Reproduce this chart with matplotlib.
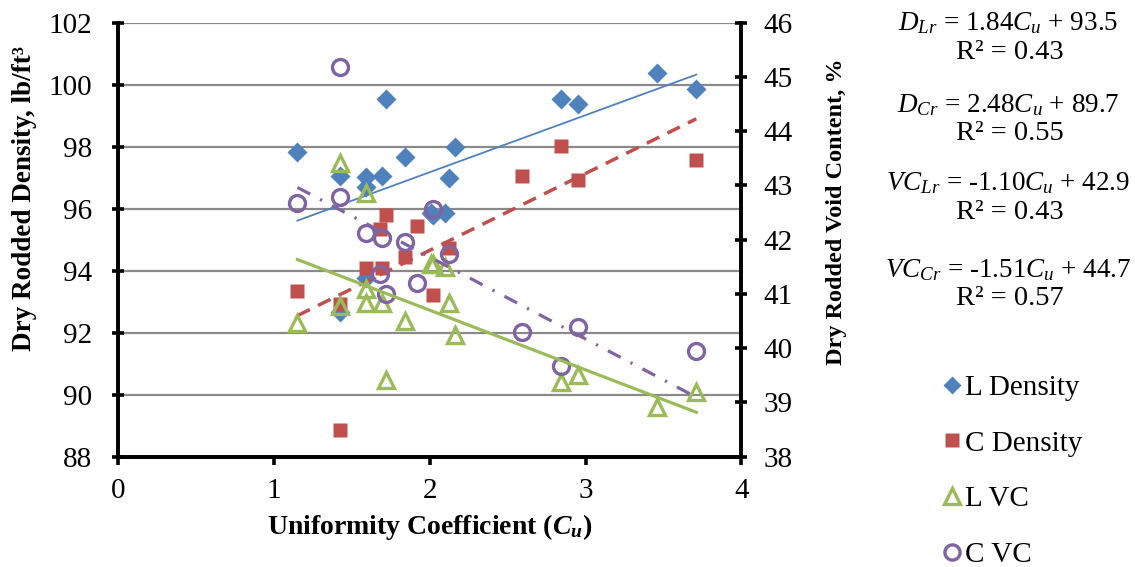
import numpy as np
import matplotlib
matplotlib.use("Agg")
import matplotlib.pyplot as plt

plt.rcParams['font.family'] = ['Liberation Serif', 'DejaVu Serif']
plt.rcParams['mathtext.fontset'] = 'custom'
plt.rcParams['mathtext.rm'] = 'Liberation Serif'
plt.rcParams['mathtext.it'] = 'Liberation Serif:italic'
plt.rcParams['mathtext.bf'] = 'Liberation Serif:bold'
plt.rcParams['mathtext.bfit'] = 'Liberation Serif:italic:bold'

# L aggregate: uniformity coefficient, density (lb/ft3), void content (%)
L_cu = [1.15, 1.42, 1.42, 1.59, 1.59, 1.59, 1.69, 1.72, 1.84, 2.01, 2.02, 2.10, 2.12, 2.16, 2.84, 2.95, 3.46, 3.71]
L_density = [97.84, 97.05, 92.68, 97.03, 96.70, 93.76, 97.06, 99.53, 97.66, 95.85, 95.80, 95.87, 96.98, 98.00, 99.53, 99.38, 100.39, 99.85]
L_vc = [40.46, 40.78, 43.42, 40.83, 41.10, 42.87, 40.83, 39.41, 40.51, 41.56, 41.55, 41.50, 40.83, 40.24, 39.38, 39.51, 38.91, 39.20]

# C aggregate
C_cu = [1.15, 1.42, 1.42, 1.59, 1.68, 1.69, 1.72, 1.84, 1.92, 2.02, 2.12, 2.59, 2.84, 2.95, 3.71]
C_density = [93.35, 92.93, 88.86, 94.10, 95.33, 94.08, 95.80, 94.43, 95.45, 93.22, 94.72, 97.06, 98.03, 96.93, 97.57]
C_vc = [42.68, 42.79, 45.19, 42.12, 41.37, 42.04, 41.00, 41.96, 41.21, 42.56, 41.74, 40.30, 39.67, 40.40, 39.95]

# linear trend lines: name, slope, intercept, R^2
fit_names = ['D_{Lr}', 'D_{Cr}', 'VC_{Lr}', 'VC_{Cr}']
fit_slope = [1.84, 2.48, -1.10, -1.51]
fit_icept = [93.5, 89.7, 42.9, 44.7]
fit_r2 = [0.43, 0.55, 0.43, 0.57]

blue = '#4F81BD'
red = '#C0504D'
green = '#9BBB59'
purple = '#8064A2'

fig = plt.figure(figsize=(11.35, 5.67), dpi=100)
ax = fig.add_axes([0.1042, 0.1945, 0.5491, 0.7654])
ax2 = ax.twinx()

ax.set_xlim(0, 4)
ax.set_ylim(88, 102)
ax2.set_ylim(38, 46)
ax.set_xticks(range(0, 5))
ax.set_yticks(range(88, 103, 2))
ax2.set_yticks(range(38, 47))

ax.grid(axis='y', color='#8a8a8a', lw=1.6)
ax.set_axisbelow(True)

def trend(a, i, xs, **kw):
    x = np.array([min(xs), max(xs)])
    a.plot(x, fit_slope[i] * x + fit_icept[i], **kw)

# densities on the left axis
ax.plot(L_cu, L_density, 'D', color=blue, ms=10, mec='none', label='L Density')
ax.plot(C_cu, C_density, 's', color=red, ms=10.5, mec='none', label='C Density')
trend(ax, 0, L_cu, color=blue, lw=1.3)
trend(ax, 1, C_cu, color=red, lw=2.5, dashes=(4, 2.6))

# void content on the right axis
ax2.plot(L_cu, L_vc, '^', mfc='none', mec=green, mew=2.4, ms=11.5, label='L VC')
ax2.plot(C_cu, C_vc, 'o', mfc='none', mec=purple, mew=2.4, ms=11.5, label='C VC')
trend(ax2, 2, L_cu, color=green, lw=2.3)
trend(ax2, 3, C_cu, color=purple, lw=2.3, dashes=(4.5, 3.5, 0.7, 3.5))

for a in (ax, ax2):
    for s in a.spines.values():
        s.set_linewidth(2.6)
    a.spines['top'].set_visible(False)
ax.tick_params(axis='both', labelsize=21, width=2.6, length=8, direction='inout')
ax.tick_params(axis='x', direction='out', length=6, pad=9)
ax.tick_params(axis='y', pad=15)
ax2.tick_params(axis='y', labelsize=21, width=2.6, length=8, direction='inout', pad=12)

ax.set_xlabel(r'Uniformity Coefficient ($\mathbfit{C_u}$)', fontsize=20, fontweight='bold', va='center')
ax.xaxis.set_label_coords(0.5, -0.162)
ax.set_ylabel('Dry Rodded Density, lb/ft³', fontsize=19.5, fontweight='bold', va='center')
ax.yaxis.set_label_coords(-0.1497, 0.596)
ax2.set_ylabel('Dry Rodded Void Content, %', fontsize=17.5, fontweight='bold', va='center', rotation=90)
ax2.yaxis.set_label_coords(1.153, 0.564)

# trend line equations
eq_y = [0.959, 0.815, 0.677, 0.524]
for i in range(4):
    eq = r'$%s$ = %.2f$C_u$ + %.1f' % (fit_names[i], fit_slope[i], fit_icept[i])
    fig.text(0.888, eq_y[i], eq, fontsize=19.5, ha='center', va='center')
    fig.text(0.89, eq_y[i] - 0.051, 'R² = %.2f' % fit_r2[i], fontsize=20.5, ha='center', va='center')

h1, l1 = ax.get_legend_handles_labels()
h2, l2 = ax2.get_legend_handles_labels()
fig.legend(h1 + h2, l1 + l2, loc='upper left', bbox_to_anchor=(0.821, 0.36),
           frameon=False, fontsize=21, handlelength=0.6, handletextpad=0.15,
           labelspacing=1.0, borderaxespad=0, markerscale=0.95)

fig.savefig('out.png', dpi=100)
